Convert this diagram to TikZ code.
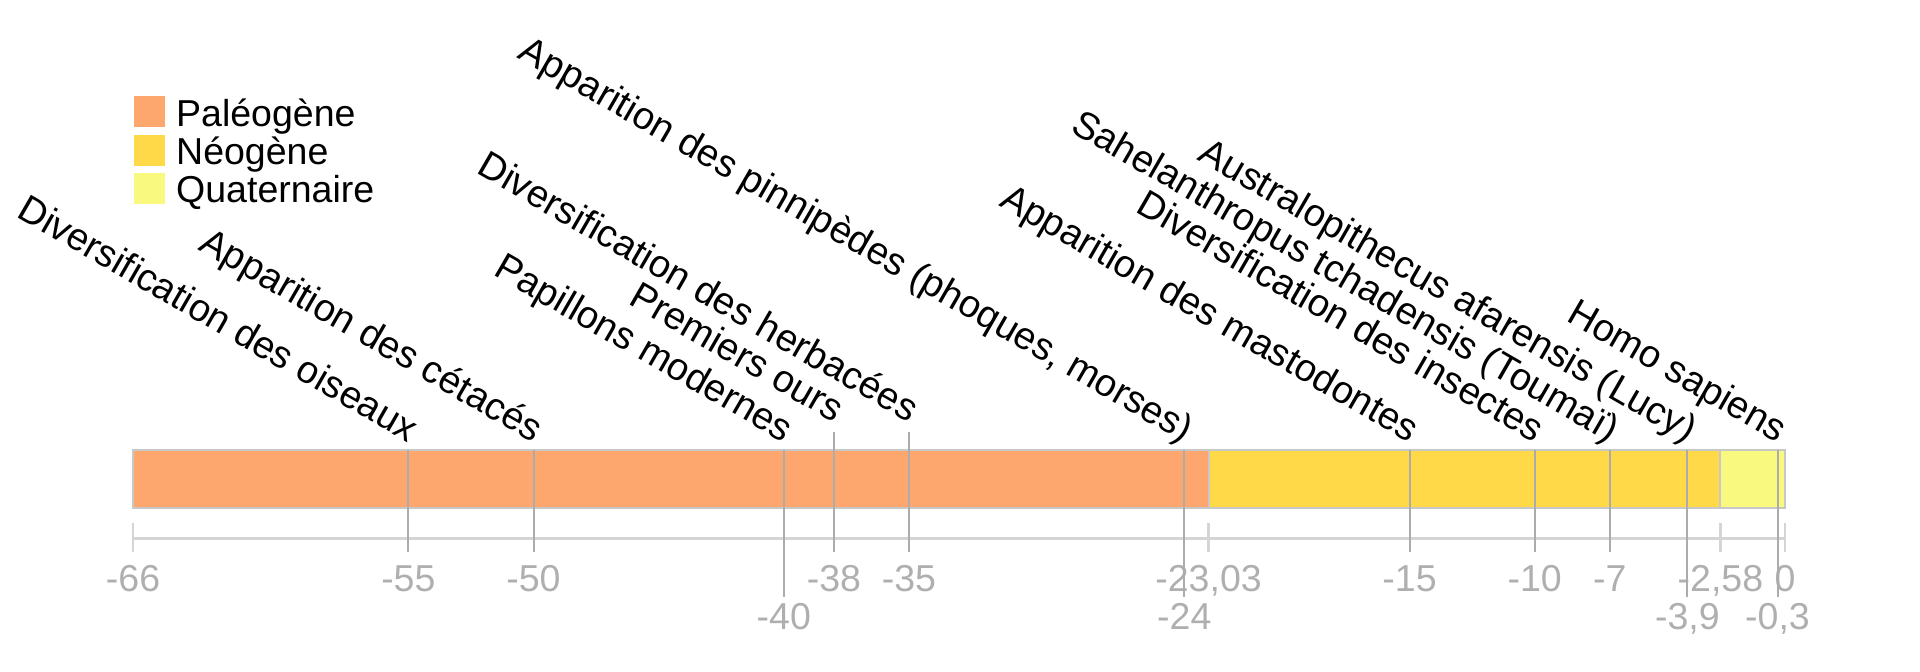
\documentclass[tikz,border=0pt]{standalone}
\usepackage{fontspec}
\setmainfont{Liberation Sans}
\definecolor{paleo}{RGB}{253,167,111}
\definecolor{neo}{RGB}{255,217,71}
\definecolor{quat}{RGB}{249,249,127}
\definecolor{bordergray}{RGB}{200,200,200}
\definecolor{axisgray}{RGB}{213,213,213}
\definecolor{linegray}{RGB}{172,172,172}
\definecolor{labelgray}{RGB}{175,175,175}
\newcommand{\bigfont}{\fontsize{37.5}{44}\selectfont}
\newcommand{\evfont}{\fontsize{38.3}{45}\selectfont}
\begin{document}
\begin{tikzpicture}[x=1pt,y=-1pt,
  period/.style={draw=bordergray, line width=2pt},
  evline/.style={draw=linegray, line width=2pt},
  axisline/.style={draw=axisgray, line width=3pt},
  bndtick/.style={draw=axisgray, line width=2.5pt},
  evlabel/.style={rotate=-30, anchor=base east, inner sep=0pt, font=\evfont, text=black},
  ticklabel/.style={anchor=base, inner sep=0pt, font=\bigfont, text=labelgray},
  legtext/.style={anchor=base west, inner sep=0pt, font=\bigfont, text=black},
  swatch/.style={anchor=north west, inner sep=0pt, minimum width=31pt, minimum height=31pt}]
\useasboundingbox (0,0) rectangle (1920,672);
% periods
\draw[period, fill=paleo] (133,450) rectangle (1208.6,508);
\draw[period, fill=neo] (1208.6,450) rectangle (1720.4,508);
\draw[period, fill=quat] (1720.4,450) rectangle (1785,508);
% axis
\coordinate (axl) at (133,538);
\coordinate (axr) at (1785,538);
\draw[axisline] (axl) -- (axr);
% boundary ticks and labels
\foreach \t/\tl [count=\j] in {-66/{-66}, -23.03/{-23,03}, -2.58/{-2,58}, 0/{0}}{
  \pgfmathsetmacro\xx{1785+25.03*\t}
  \coordinate (bt\j) at (\xx,523);
  \coordinate (bb\j) at (\xx,552);
  \draw[bndtick] (bt\j) -- (bb\j);
  \node[ticklabel] (bl\j) at (\xx,591) {\tl};
}
% events
\foreach \t/\lab/\tl/\row/\lift [count=\i] in {
 -55/{Diversification des oiseaux}/{-55}/1/0,
 -50/{Apparition des cétacés}/{-50}/1/0,
 -40/{Papillons modernes}/{-40}/2/0,
 -38/{Premiers ours}/{-38}/1/1,
 -35/{Diversification des herbacées}/{-35}/1/1,
 -24/{Apparition des pinnipèdes (phoques, morses)}/{-24}/2/0,
 -15/{Apparition des mastodontes}/{-15}/1/0,
 -10/{Diversification des insectes}/{-10}/1/0,
 -7/{Sahelanthropus tchadensis (Toumaï)}/{-7}/1/0,
 -3.9/{Australopithecus afarensis (Lucy)}/{-3,9}/2/0,
 -0.3/{Homo sapiens}/{-0,3}/2/0}{
  \pgfmathsetmacro\xx{1785+25.03*\t}
  \pgfmathsetmacro\ytop{\lift==1?432:450}
  \pgfmathsetmacro\ybot{\row==2?597:552}
  \pgfmathsetmacro\ylab{\lift==1?423:443}
  \pgfmathsetmacro\ytl{\row==2?629:591}
  \coordinate (top\i) at (\xx,\ytop);
  \coordinate (bot\i) at (\xx,\ybot);
  \draw[evline] (top\i) -- (bot\i);
  \node[evlabel] (ev\i) at (\xx,\ylab) {\lab};
  \node[ticklabel] (tl\i) at (\xx,\ytl) {\tl};
}
% legend
\node[swatch, fill=paleo] (sw1) at (134,96) {};
\node[swatch, fill=neo] (sw2) at (134,134.5) {};
\node[swatch, fill=quat] (sw3) at (134,173) {};
\node[legtext] (lg1) at (176,126) {Paléogène};
\node[legtext] (lg2) at (176,164) {Néogène};
\node[legtext] (lg3) at (176,202) {Quaternaire};
\end{tikzpicture}
\end{document}
